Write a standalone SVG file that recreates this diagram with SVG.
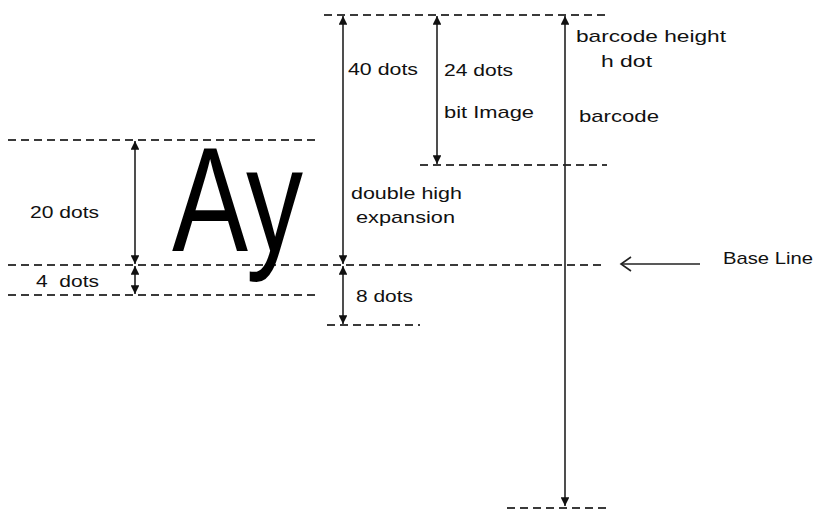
<svg xmlns="http://www.w3.org/2000/svg" width="818" height="511" viewBox="0 0 818 511">
<style>
.dash{stroke:#3a3a3a;stroke-width:2;stroke-dasharray:8 5;fill:none}
.dim{stroke:#222;stroke-width:1.6;fill:none;marker-start:url(#ah);marker-end:url(#ah)}
.t{font-family:"Liberation Sans",Arial,sans-serif;font-size:17px;fill:#111}
</style>
<defs>
<marker id="ah" viewBox="0 0 10 10" refX="10" refY="5" markerWidth="5.5" markerHeight="5.5" orient="auto-start-reverse" markerUnits="strokeWidth">
<path d="M0,0 L10,5 L0,10 z" fill="#111"/>
</marker>
</defs>
<rect width="818" height="511" fill="#fff"/>
<g id="guides">
<line class="dash" x1="324" y1="15" x2="607" y2="15"/>
<line class="dash" x1="8" y1="140" x2="320" y2="140"/>
<line class="dash" x1="420" y1="165" x2="607" y2="165"/>
<line class="dash" x1="8" y1="265" x2="605" y2="265"/>
<line class="dash" x1="8" y1="295" x2="320" y2="295"/>
<line class="dash" x1="327" y1="325" x2="420" y2="325"/>
<line class="dash" x1="507" y1="508" x2="608" y2="508"/>
</g>
<g id="connectors">
<line class="dim" x1="135" y1="141" x2="135" y2="264"/>
<line class="dim" x1="135" y1="266" x2="135" y2="294"/>
<line class="dim" x1="343" y1="16" x2="343" y2="264"/>
<line class="dim" x1="343" y1="266" x2="343" y2="324"/>
<line class="dim" x1="437" y1="16" x2="437" y2="164"/>
<line class="dim" x1="565" y1="16" x2="565" y2="506"/>
<g id="baseline-arrow" stroke="#222" stroke-width="1.6" fill="none">
<line x1="700" y1="264" x2="621" y2="264"/>
<polyline points="631,257 621,264 631,271"/>
</g>
</g>
<g id="sample">
<text x="172" y="251" font-family="Liberation Sans,Arial,sans-serif" font-size="148" fill="#000" textLength="131" lengthAdjust="spacingAndGlyphs">Ay</text>
</g>
<g id="labels">
<text class="t" x="30" y="218" textLength="69" lengthAdjust="spacingAndGlyphs">20 dots</text>
<text class="t" x="36" y="287" textLength="63" lengthAdjust="spacingAndGlyphs" xml:space="preserve">4  dots</text>
<text class="t" x="348" y="75" textLength="70" lengthAdjust="spacingAndGlyphs">40 dots</text>
<text class="t" x="444" y="76" textLength="69" lengthAdjust="spacingAndGlyphs">24 dots</text>
<text class="t" x="444" y="118" textLength="90" lengthAdjust="spacingAndGlyphs">bit Image</text>
<text class="t" x="576" y="42" textLength="150" lengthAdjust="spacingAndGlyphs">barcode height</text>
<text class="t" x="601" y="67" textLength="51" lengthAdjust="spacingAndGlyphs">h dot</text>
<text class="t" x="579" y="122" textLength="80" lengthAdjust="spacingAndGlyphs">barcode</text>
<text class="t" x="351" y="199" textLength="111" lengthAdjust="spacingAndGlyphs">double high</text>
<text class="t" x="356" y="223" textLength="99" lengthAdjust="spacingAndGlyphs">expansion</text>
<text class="t" x="356" y="302" textLength="57" lengthAdjust="spacingAndGlyphs">8 dots</text>
<text class="t" x="723" y="264" font-size="16" textLength="90" lengthAdjust="spacingAndGlyphs">Base Line</text>
</g>
</svg>
